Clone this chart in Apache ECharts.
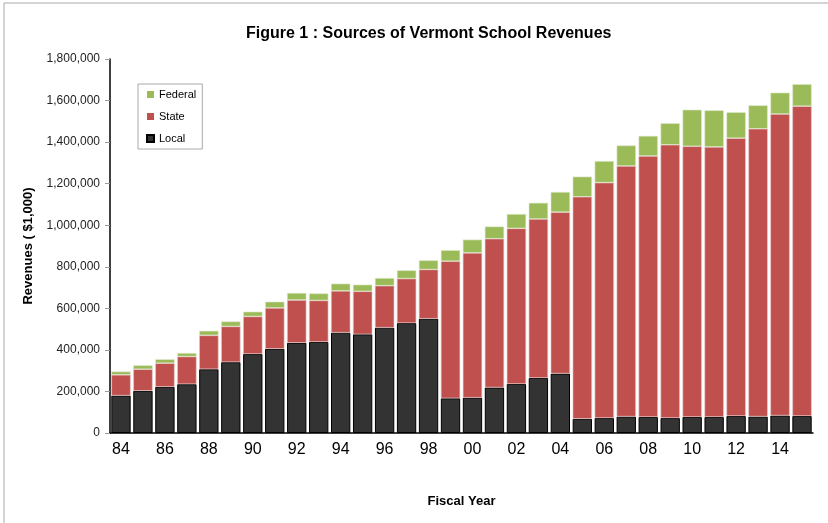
<!DOCTYPE html>
<html>
<head>
  <meta charset="utf-8">
  <title>Sources of Vermont School Revenues</title>
  <script src="https://cdn.jsdelivr.net/npm/echarts@6/dist/echarts.min.js"></script>
  <style>
    html, body { margin: 0; padding: 0; background: #fff; }
    #chart { width: 828px; height: 523px; }
  </style>
</head>
<body>
  <div id="chart"></div>
  <script>
    // fiscal years, revenues in $1,000
    var years = ['84', '85', '86', '87', '88', '89', '90', '91', '92', '93', '94', '95', '96', '97', '98', '99',
      '00', '01', '02', '03', '04', '05', '06', '07', '08', '09', '10', '11', '12', '13', '14', '15'];
    var local = [180000, 203000, 222000, 235000, 307000, 341000, 380000, 405000, 434000, 438000, 483000, 475000,
      507000, 529000, 550000, 167000, 170000, 219000, 236000, 265000, 286000, 68000, 72000, 79000, 77000, 72000,
      77000, 77000, 82000, 79000, 84000, 82000];
    var state = [100000, 104000, 114000, 133000, 163000, 172000, 181000, 197000, 206000, 200000, 201000, 207000,
      202000, 214000, 237000, 660000, 697000, 716000, 749000, 765000, 777000, 1069000, 1133000, 1206000, 1256000,
      1315000, 1303000, 1300000, 1337000, 1385000, 1451000, 1491000];
    var federal = [16000, 19000, 19000, 17000, 22000, 24000, 23000, 30000, 34000, 34000, 35000, 32000, 37000,
      40000, 44000, 53000, 64000, 59000, 69000, 78000, 97000, 97000, 104000, 99000, 97000, 104000, 176000, 176000,
      125000, 113000, 103000, 106000];

    var font = 'Liberation Sans, Arial, sans-serif';
    var chart = echarts.init(document.getElementById('chart'));

    option = {
      animation: false,
      textStyle: { fontFamily: font },
      title: {
        text: 'Figure 1 : Sources of Vermont School Revenues',
        left: 241,
        top: 21,
        textStyle: { fontSize: 16, fontWeight: 'bold', color: '#000', fontFamily: font }
      },
      graphic: [
        { type: 'line', shape: { x1: 4, y1: 3, x2: 828, y2: 3 }, style: { stroke: '#aaa', lineWidth: 1 } },
        { type: 'line', shape: { x1: 4, y1: 3, x2: 4, y2: 523 }, style: { stroke: '#aaa', lineWidth: 1 } }
      ],
      legend: {
        orient: 'vertical',
        left: 138,
        top: 84,
        data: [
          { name: 'Federal', itemStyle: { borderWidth: 0 } },
          { name: 'State', itemStyle: { borderWidth: 0 } },
          { name: 'Local' }
        ],
        icon: 'rect',
        itemWidth: 7,
        itemHeight: 7,
        itemGap: 9,
        padding: [4, 6, 4, 8],
        borderColor: '#aaa',
        borderWidth: 1,
        textStyle: { fontSize: 11, color: '#000', lineHeight: 13, fontFamily: font }
      },
      grid: { left: 110, right: 15, top: 59, bottom: 90 },
      xAxis: {
        type: 'category',
        data: years,
        name: 'Fiscal Year',
        nameLocation: 'middle',
        nameGap: 62,
        nameTextStyle: { fontSize: 13, fontWeight: 'bold', color: '#000' },
        axisLine: { lineStyle: { color: '#000', width: 1.5 } },
        axisTick: { interval: 0, length: 4, lineStyle: { color: '#999' } },
        axisLabel: { interval: 1, fontSize: 16, color: '#000', margin: 9 }
      },
      yAxis: {
        type: 'value',
        min: 0,
        max: 1800000,
        interval: 200000,
        name: 'Revenues ( $1,000)',
        nameLocation: 'middle',
        nameGap: 75,
        nameTextStyle: { fontSize: 13, fontWeight: 'bold', color: '#000' },
        axisLine: { show: true, lineStyle: { color: '#000', width: 1.5 } },
        axisTick: { show: true, length: 5, lineStyle: { color: '#999' } },
        splitLine: { show: false },
        axisLabel: {
          fontSize: 12,
          color: '#222',
          margin: 10,
          formatter: function (v) { return v.toLocaleString('en-US'); }
        }
      },
      series: [
        {
          name: 'Local',
          type: 'bar',
          stack: 'rev',
          barCategoryGap: '12%',
          data: local,
          itemStyle: { color: '#333333', borderColor: '#000', borderWidth: 1 }
        },
        {
          name: 'State',
          type: 'bar',
          stack: 'rev',
          data: state,
          itemStyle: { color: '#C0504D', borderColor: '#e6c8c8', borderWidth: 0.6 }
        },
        {
          name: 'Federal',
          type: 'bar',
          stack: 'rev',
          data: federal,
          itemStyle: { color: '#9BBB59', borderColor: '#dfe9cc', borderWidth: 0.6 }
        }
      ]
    };

    chart.setOption(option);
  </script>
</body>
</html>
